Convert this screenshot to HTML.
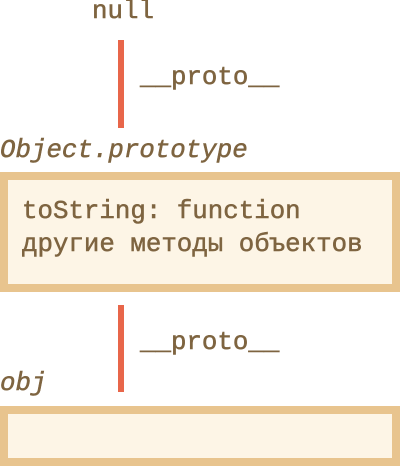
<!DOCTYPE html>
<html><head><style>
body{margin:0;width:400px;height:466px;background:#fff;position:relative;overflow:hidden;font-family:"Liberation Mono","DejaVu Sans Mono",monospace;color:#7e6440;}
.t{position:absolute;font-size:25.8px;line-height:30px;white-space:pre;-webkit-text-stroke:0.5px #7e6440;}
.i{font-style:italic;}
.box{position:absolute;left:0;width:384px;border:8px solid #e8c48e;background:#fdf5e6;}
.line{position:absolute;left:118px;width:6px;background:#e8664a;}
</style></head><body>
<div class="t" style="left:92px;top:-3px">null</div>
<div class="line" style="top:40px;height:88px"></div>
<div class="t" style="left:140px;top:63px">__proto__</div>
<div class="t i" style="left:0;top:136px">Object.prototype</div>
<div class="box" style="top:172px;height:104px"></div>
<div class="t" style="left:22px;top:197px">toString: function</div>
<div class="t" style="left:22px;top:230px">другие методы объектов</div>
<div class="line" style="top:305px;height:87px"></div>
<div class="t" style="left:140px;top:328px">__proto__</div>
<div class="t i" style="left:0;top:369px">obj</div>
<div class="box" style="top:406px;height:44px"></div>
</body></html>
